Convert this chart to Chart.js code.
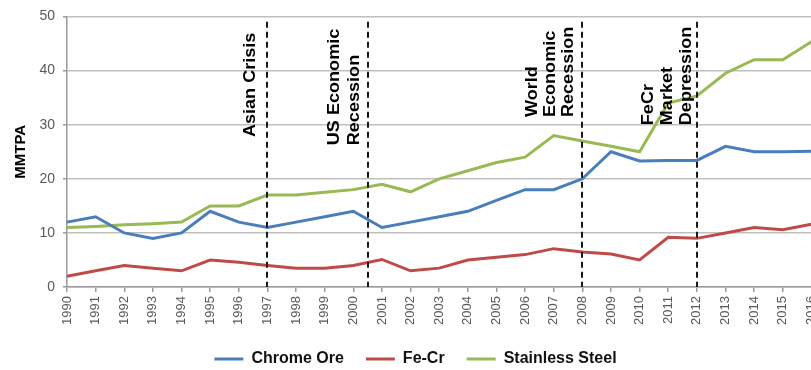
<!DOCTYPE html>
<html>
<head>
<meta charset="utf-8">
<script src="https://cdn.jsdelivr.net/npm/chart.js@4/dist/chart.umd.min.js"></script>
<style>
  html, body { margin: 0; padding: 0; background: #fff; overflow: hidden; width: 811px; height: 370px; }
  #wrap { position: absolute; left: 0; top: 0; width: 831px; height: 370px; }
</style>
</head>
<body>
<div id="wrap"><canvas id="c"></canvas></div>
<script>
// Annual production, million metric tonnes per annum
const years = ['1990','1991','1992','1993','1994','1995','1996','1997','1998','1999','2000','2001','2002',
               '2003','2004','2005','2006','2007','2008','2009','2010','2011','2012','2013','2014','2015','2016'];
const chromeOre = [12, 13, 10, 9, 10, 14, 12, 11, 12, 13, 14, 11, 12, 13, 14, 16, 18, 18, 20, 25, 23.3, 23.4, 23.4, 26, 25, 25, 25.1];
const feCr = [2, 3, 4, 3.5, 3, 5, 4.6, 4, 3.5, 3.5, 4, 5.1, 3, 3.5, 5, 5.5, 6, 7.1, 6.5, 6.1, 5, 9.2, 9, 10, 11, 10.6, 11.6];
const stainlessSteel = [11, 11.2, 11.5, 11.7, 12, 15, 15, 17, 17, 17.5, 18, 19, 17.6, 20, 21.5, 23, 24, 28, 27, 26, 25, 34, 35.3, 39.5, 42, 42, 45.3];
const yTicks = [0, 10, 20, 30, 40, 50];

// Market events marked with dashed lines
const eventYears = [1997, 2000.5, 2008, 2012];
const eventLabels = [
  ['Asian Crisis'],
  ['US Economic', 'Recession'],
  ['World', 'Economic', 'Recession'],
  ['FeCr', 'Market', 'Depression']
];

const FONT = "'Liberation Sans', Arial, sans-serif";
Chart.defaults.font.family = FONT;

// where each event caption sits: text start (in axis units) and line offsets left of the marker
const captionPlacement = [
  { base: 27.7, dx: [-16] },
  { base: 26.2, dx: [-33, -13] },
  { base: 31.4, dx: [-49, -31, -13] },
  { base: 29.9, dx: [-48, -29, -10] }
];

const eventMarkers = {
  id: 'eventMarkers',
  afterDatasetsDraw(chart) {
    const { ctx, scales: { x, y } } = chart;
    const firstYear = Number(years[0]);
    ctx.save();
    eventYears.forEach((yr, i) => {
      const px = Math.round(x.getPixelForValue(yr - firstYear));
      ctx.beginPath();
      ctx.setLineDash([6, 4]);
      ctx.lineWidth = 2;
      ctx.strokeStyle = '#1a1a1a';
      ctx.moveTo(px, y.getPixelForValue(49));
      ctx.lineTo(px, y.getPixelForValue(0));
      ctx.stroke();
      ctx.setLineDash([]);

      const place = captionPlacement[i];
      const baseY = y.getPixelForValue(place.base);
      eventLabels[i].forEach((line, j) => {
        ctx.save();
        ctx.translate(px + place.dx[j], baseY);
        ctx.rotate(-Math.PI / 2);
        ctx.scale(1.13, 1);
        ctx.font = 'bold 16px ' + FONT;
        ctx.fillStyle = '#000';
        ctx.textAlign = 'left';
        ctx.textBaseline = 'middle';
        ctx.fillText(line, 0, 0);
        ctx.restore();
      });
    });
    ctx.restore();
  }
};

const lineStyle = (label, data, color) => ({
  label, data,
  borderColor: color,
  backgroundColor: color,
  borderWidth: 3,
  pointRadius: 0,
  pointHoverRadius: 0,
  tension: 0,
  fill: false
});

new Chart(document.getElementById('c'), {
  type: 'line',
  data: {
    labels: years,
    datasets: [
      lineStyle('Chrome Ore', chromeOre, '#4A7EBB'),
      lineStyle('Fe-Cr', feCr, '#BE4B48'),
      lineStyle('Stainless Steel', stainlessSteel, '#98B954')
    ]
  },
  options: {
    responsive: true,
    maintainAspectRatio: false,
    animation: false,
    layout: { padding: { top: 9, left: 0, right: 0, bottom: 0 } },
    plugins: {
      tooltip: { enabled: false },
      legend: {
        position: 'bottom',
        maxHeight: 41,
        labels: {
          usePointStyle: true,
          pointStyle: 'line',
          pointStyleWidth: 29,
          padding: 22,
          color: '#111',
          font: { size: 16, weight: 'bold', family: FONT }
        }
      }
    },
    scales: {
      x: {
        type: 'category',
        offset: false,
        grid: {
          drawOnChartArea: true,
          color: (c) => (c.index === years.length - 1 ? '#bfbfbf' : 'rgba(0,0,0,0)'),
          tickColor: '#9a9a9a',
          tickLength: 5,
          lineWidth: 1.5
        },
        border: { display: true, color: '#9a9a9a', width: 1.5 },
        ticks: {
          autoSkip: false,
          minRotation: 90,
          maxRotation: 90,
          padding: 4,
          color: '#595959',
          font: { size: 13, family: FONT }
        }
      },
      y: {
        min: 0,
        max: 50,
        afterBuildTicks: (s) => { s.ticks = yTicks.map(v => ({ value: v })); },
        afterFit: (s) => { s.width = 67; },
        grid: {
          color: '#bfbfbf',
          lineWidth: 1.5,
          tickColor: '#9a9a9a',
          tickLength: 4
        },
        border: { display: true, color: '#9a9a9a', width: 1.5 },
        ticks: {
          padding: 8,
          color: '#595959',
          font: { size: 14, family: FONT }
        },
        title: {
          display: true,
          text: 'MMTPA',
          color: '#000',
          padding: { top: 12, bottom: 0 },
          font: { size: 15, weight: 'bold', family: FONT }
        }
      }
    }
  },
  plugins: [eventMarkers]
});
</script>
</body>
</html>
